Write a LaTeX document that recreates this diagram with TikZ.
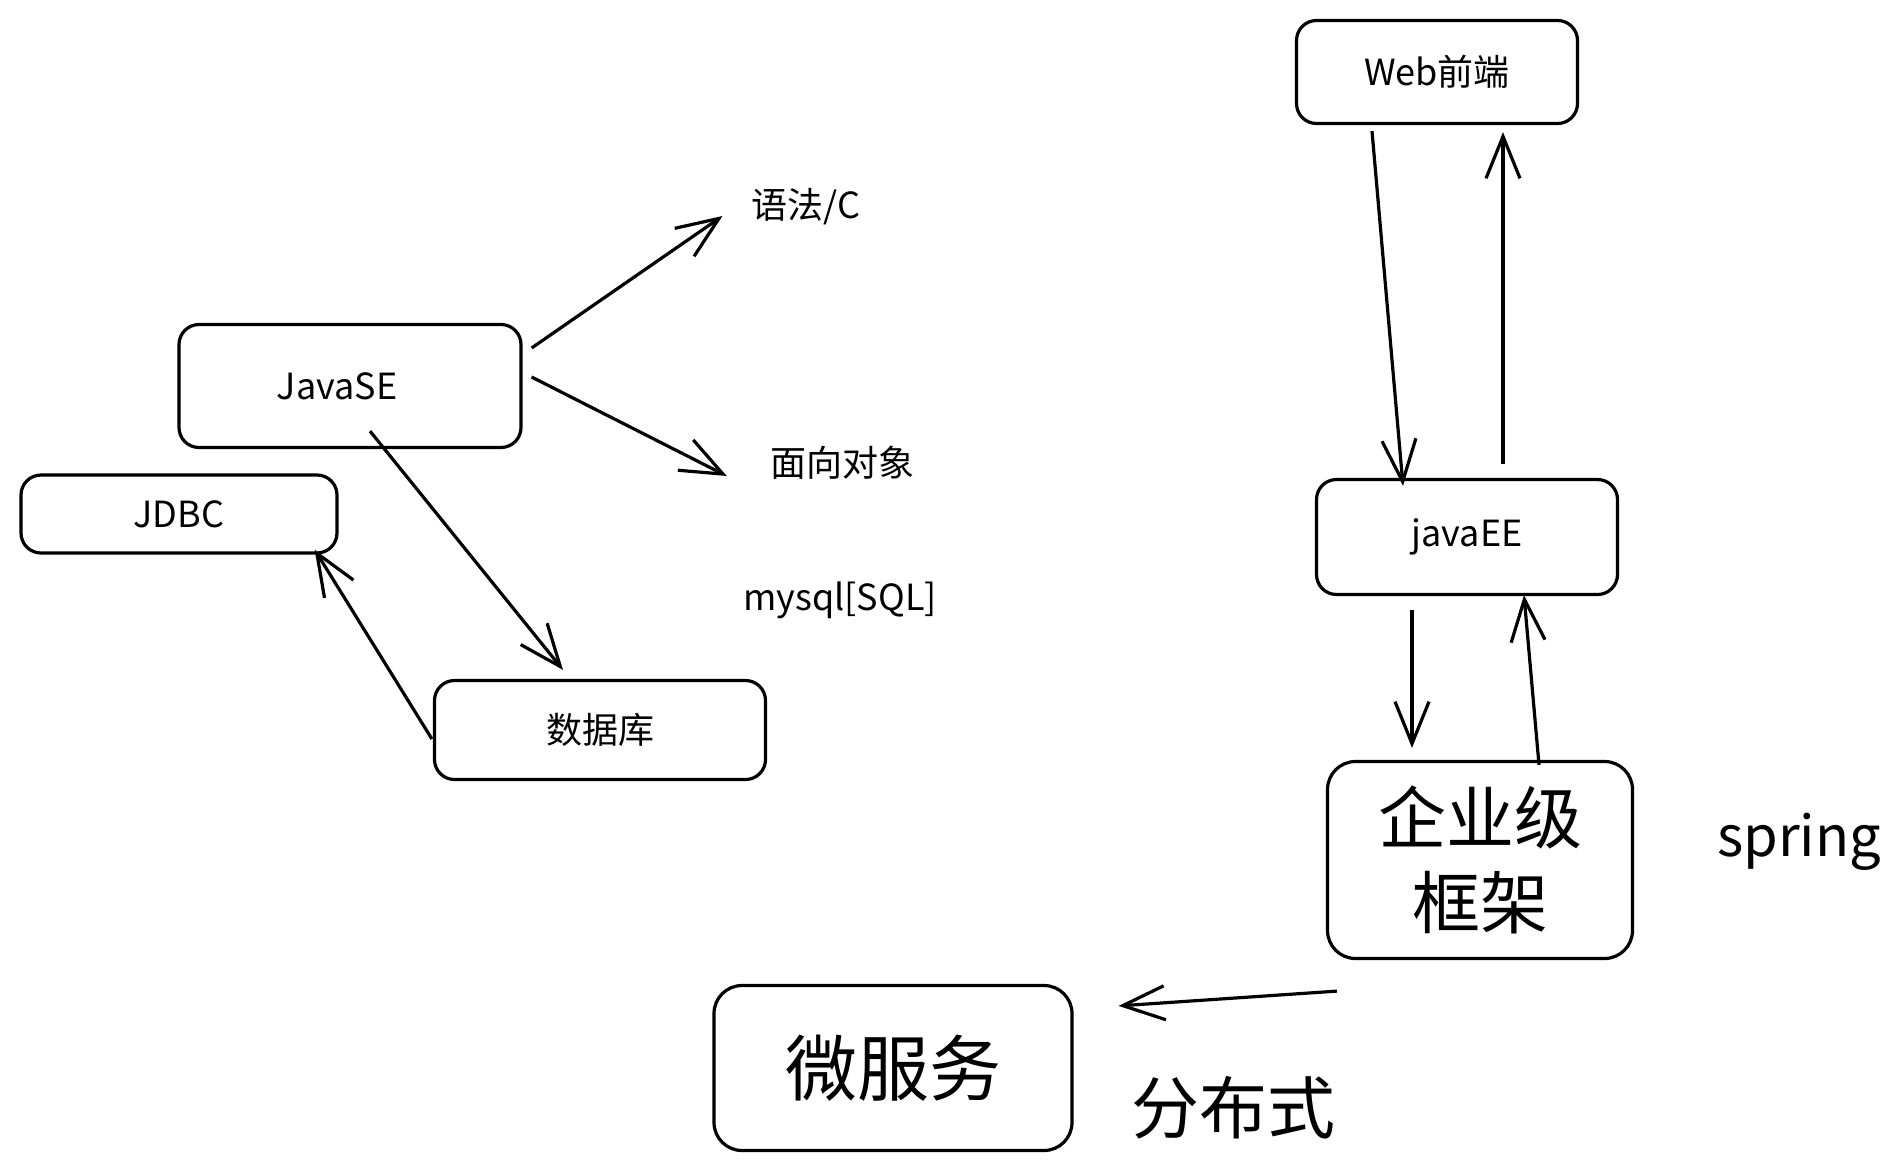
\documentclass[tikz,border=0pt]{standalone}
\usepackage{fontspec}
\setmainfont{Noto Sans CJK SC}
\usetikzlibrary{positioning,arrows.meta}
\tikzset{
  box/.style     = {draw, rounded corners=20pt, line width=3.2pt, align=center,
                    inner sep=0pt, font=\fontsize{36}{42}\selectfont},
  bigbox/.style  = {box, rounded corners=28pt, font=\fontsize{68}{85}\selectfont},
  note/.style    = {inner sep=0pt, font=\fontsize{36}{42}\selectfont},
  bignote/.style = {inner sep=0pt, font=\fontsize{68}{80}\selectfont},
  arrow/.style   = {-{Straight Barb[length=42pt,width=34pt]}, line width=3.2pt},
}
\begin{document}
\begin{tikzpicture}[x=1pt, y=-1pt]
  \useasboundingbox (0,0) rectangle (1900,1173);
  % JavaSE side
  \node[box, minimum width=342pt, minimum height=123pt] (javase) at (350,386) {JavaSE\hspace*{26pt}};
  \node[box, minimum width=316pt, minimum height=78pt] (jdbc) at (179,514) {JDBC};
  \node[box, minimum width=331pt, minimum height=99pt] (db) at (600,730) {数据库};
  \node[note] (syntax) at (806,207) {语法/C};
  \node[note] (oop) at (842,463) {面向对象};
  \node[note] (mysql) at (840,600) {mysql[SQL]};
  % JavaEE side
  \node[box, minimum width=281pt, minimum height=103pt] (web) at (1437,72) {Web前端};
  \node[box, minimum width=301pt, minimum height=115pt] (javaee) at (1467,537) {javaEE};
  \node[bigbox, minimum width=305pt, minimum height=197pt] (frame) at (1480,860) {企业级\\框架};
  \node[bigbox, font=\fontsize{72}{85}\selectfont, minimum width=358pt, minimum height=165pt] (micro) at (893,1068) {微服务};
  \node[bignote, font=\fontsize{56}{66}\selectfont] (spring) at (1799,842) {spring};
  \node[bignote] (dist) at (1233,1108) {分布式};
  % connectors
  \draw[arrow] ([shift={(9,-38)}]javase.east) -- ([shift={(-29,9)}]syntax.west);
  \draw[arrow] ([shift={(9,-9)}]javase.east) -- ([shift={(-43,13)}]oop.west);
  \draw[arrow] ([shift={(20,-18)}]javase.south) -- ([shift={(-37,-9)}]db.north);
  \draw[arrow] ([shift={(-1,9)}]db.west) -- ([shift={(-24,-5)}]jdbc.south east);
  \draw[arrow] ([shift={(-65,6)}]web.south) -- ([shift={(-64,8)}]javaee.north);
  \draw[arrow] ([shift={(36,-14)}]javaee.north) -- ([shift={(66,7)}]web.south);
  \draw[arrow] ([shift={(-55,14)}]javaee.south) -- ([shift={(-68,-12)}]frame.north);
  \draw[arrow] ([shift={(59,5)}]frame.north) -- ([shift={(57,-1)}]javaee.south);
  \draw[arrow] ([shift={(11,31)}]frame.south west) -- ([shift={(45,22)}]micro.north east);
\end{tikzpicture}
\end{document}
